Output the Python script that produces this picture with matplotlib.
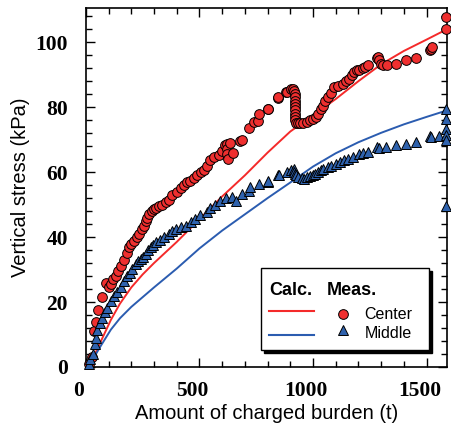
import matplotlib
matplotlib.use('Agg')
import matplotlib.pyplot as plt
import matplotlib.transforms as mtrans
from matplotlib.patches import Rectangle
from matplotlib.ticker import MultipleLocator

# calculated curves (t, kPa)
calc_x = [10, 40, 70, 110, 150, 200, 250, 300, 400, 500, 600, 700, 800, 900, 1000, 1100, 1200, 1300, 1400, 1500, 1590]
calc_center = [0, 4, 8.5, 14.5, 19.5, 24.5, 28.5, 32, 38.5, 45.5, 52.5, 59, 66, 72.5, 77.5, 82.5, 88, 93.2, 97.3, 100.8, 104]
calc_middle = [0, 3.5, 7, 11.5, 15, 18.5, 21.5, 24.5, 30.3, 36.5, 42, 47, 52, 56.8, 61.7, 65.8, 69.2, 72.1, 74.7, 77, 79]

# measured, center
meas_c_x = [15, 25, 37, 44, 54, 70, 88, 102, 110, 120, 132, 143, 154, 168, 180, 190, 200, 212, 223, 234,
            245, 256, 263, 270, 280, 292, 300, 310, 320, 335, 351, 365, 380, 400, 417, 430, 446, 460, 475, 490,
            505, 518, 533, 548, 565, 584, 600, 614, 620, 620, 622, 625, 633, 648, 677, 687, 720, 738, 757, 760,
            801, 804, 845, 848, 881, 884, 905, 913, 918, 920, 920, 920, 920, 920, 920, 921, 921, 922, 925, 935,
            943, 958, 972, 985, 1001, 1012, 1023, 1035, 1045, 1053, 1064, 1080, 1093, 1110, 1130, 1145, 1159, 1170, 1181, 1192,
            1203, 1218, 1230, 1240, 1283, 1287, 1290, 1298, 1310, 1327, 1364, 1408, 1452, 1513, 1520, 1525, 1586, 1586]
meas_c_y = [1, 3, 11, 14, 17.5, 21.4, 26, 24.5, 25.5, 27, 28, 29.5, 31, 33, 35, 36.8, 38, 38.9, 40, 41,
            42.5, 43.5, 45, 46, 47, 48, 48.6, 49, 49.5, 50, 50.7, 51.5, 52.8, 54, 55, 56, 57, 57.4, 58.3, 59,
            60, 60.5, 62, 63.6, 64.5, 65.4, 66.5, 68.2, 68.8, 67, 65.5, 64, 69, 66, 69.5, 69.8, 73.6, 75.4, 75.7, 78,
            79.3, 79.5, 82.9, 83, 84.6, 84.7, 85.5, 85.7, 85, 84, 83, 82, 81, 80, 79, 78, 77, 76, 75, 75,
            75, 75.2, 75.4, 76, 76.5, 77, 78, 79.5, 80.5, 82, 83, 84.5, 86.2, 86.5, 87.2, 88, 88.8, 90, 90.8, 91.4,
            91.4, 92, 92.5, 92.9, 95, 95.5, 94.5, 93.4, 93, 93, 93.4, 94.4, 95, 97.5, 98, 98.5, 104, 107.8]

# measured, middle
meas_m_x = [12, 20, 30, 40, 44, 50, 60, 73, 85, 95, 110, 124, 139, 154, 168, 183, 195, 205, 219, 230,
            241, 252, 263, 275, 285, 296, 307, 325, 343, 365, 380, 395, 417, 439, 461, 482, 504, 534, 548, 570,
            592, 615, 643, 662, 687, 720, 724, 760, 801, 804, 848, 852, 884, 905, 915, 918, 921, 925, 935, 950,
            962, 972, 985, 998, 1009, 1022, 1035, 1045, 1064, 1080, 1101, 1120, 1137, 1155, 1174, 1203, 1220, 1240, 1283, 1290,
            1320, 1364, 1408, 1452, 1513, 1518, 1554, 1586, 1586, 1586, 1586, 1586, 1586]
meas_m_y = [1, 2.5, 3.9, 7, 9, 11.5, 13.5, 15.2, 17, 18.3, 20.4, 21.9, 23, 24.5, 26.5, 28, 29, 30.1, 31.6, 32.5,
            33.2, 34, 34.8, 36, 36.8, 37.5, 38.4, 39.2, 40, 41, 41.8, 42.5, 43, 43.5, 44.5, 45.6, 46.8, 47.7, 49, 50,
            51.2, 52, 52.3, 51, 53.3, 54.3, 55.4, 56.4, 57, 57.4, 59, 59, 60, 60.5, 61, 60, 59.5, 59, 58.6, 58.3,
            58, 58.4, 58.7, 59, 59.4, 60, 60.5, 61, 61.5, 62, 62.5, 63, 63.6, 64, 64.6, 65.6, 66, 66.2, 67.7, 67.5,
            67.7, 68.2, 68.7, 69.2, 71, 70.8, 71, 79.5, 76.5, 73.3, 71.3, 70, 49.5]

x_ticks = [0, 500, 1000, 1500]
y_ticks = [0, 20, 40, 60, 80, 100]

red_line = '#f42a2a'
blue_line = '#2b5cb0'
red_fill = '#ef2f2f'
blue_fill = '#2f62ad'

fig = plt.figure(figsize=(4.52, 4.25), dpi=100)
ax = fig.add_axes([0.190, 0.1365, 0.799, 0.8445])

ax.plot(calc_x, calc_center, color=red_line, lw=1.4, zorder=2)
ax.plot(calc_x, calc_middle, color=blue_line, lw=1.4, zorder=2)
ax.plot(meas_c_x, meas_c_y, 'o', ms=7, mfc=red_fill, mec='black', mew=0.7, ls='none', zorder=3, clip_on=False)
ax.plot(meas_m_x, meas_m_y, '^', ms=7.5, mfc=blue_fill, mec='black', mew=0.7, ls='none', zorder=3, clip_on=False)

ax.set_xlim(0, 1590)
ax.set_ylim(0, 110.5)
ax.set_xticks(x_ticks)
ax.set_yticks(y_ticks)
ax.xaxis.set_minor_locator(MultipleLocator(100))
ax.yaxis.set_minor_locator(MultipleLocator(4))
ax.tick_params(which='both', direction='in', top=True, right=True, width=1.0)
ax.tick_params(which='major', length=6.5)
ax.tick_params(which='minor', length=4)
ax.tick_params(axis='x', pad=10)
ax.tick_params(axis='y', pad=13)
for sp in ax.spines.values():
    sp.set_linewidth(1.2)

for lab in ax.get_xticklabels() + ax.get_yticklabels():
    lab.set_fontfamily('Liberation Serif')
    lab.set_fontweight('bold')
    lab.set_fontsize(15.5)
shift = mtrans.ScaledTranslation(-7 / 100, 0, fig.dpi_scale_trans)
for lab in ax.get_xticklabels():
    lab.set_transform(lab.get_transform() + shift)

ax.set_xlabel('Amount of charged burden (t)', fontfamily='Liberation Sans', fontsize=14.5, labelpad=2)
ax.set_ylabel('Vertical stress (kPa)', fontfamily='Liberation Sans', fontsize=14.5, labelpad=4)

# legend box drawn by hand
dx, dy = 0.0075, 0.0075
ax.add_patch(Rectangle((0.485 + dx, 0.047 - dy), 0.465, 0.229, transform=ax.transAxes,
                       facecolor='black', edgecolor='black', zorder=5))
ax.add_patch(Rectangle((0.485, 0.047), 0.465, 0.229, transform=ax.transAxes,
                       facecolor='white', edgecolor='black', lw=1.0, zorder=6))
ax.text(0.508, 0.2145, 'Calc.', transform=ax.transAxes, fontfamily='Liberation Sans',
        fontweight='bold', fontsize=13, va='center', zorder=7)
ax.text(0.666, 0.2145, 'Meas.', transform=ax.transAxes, fontfamily='Liberation Sans',
        fontweight='bold', fontsize=13, va='center', zorder=7)
ax.plot([0.507, 0.632], [0.156, 0.156], color=red_line, lw=1.5, transform=ax.transAxes, zorder=7)
ax.plot([0.507, 0.632], [0.089, 0.089], color=blue_line, lw=1.5, transform=ax.transAxes, zorder=7)
ax.plot([0.712], [0.147], 'o', ms=7, mfc=red_fill, mec='black', mew=0.7, transform=ax.transAxes, zorder=7)
ax.plot([0.712], [0.103], '^', ms=7.5, mfc=blue_fill, mec='black', mew=0.7, transform=ax.transAxes, zorder=7)
ax.text(0.772, 0.145, 'Center', transform=ax.transAxes, fontfamily='Liberation Sans',
        fontsize=11.5, va='center', zorder=7)
ax.text(0.772, 0.092, 'Middle', transform=ax.transAxes, fontfamily='Liberation Sans',
        fontsize=11.5, va='center', zorder=7)

fig.savefig('out.png', dpi=100)
